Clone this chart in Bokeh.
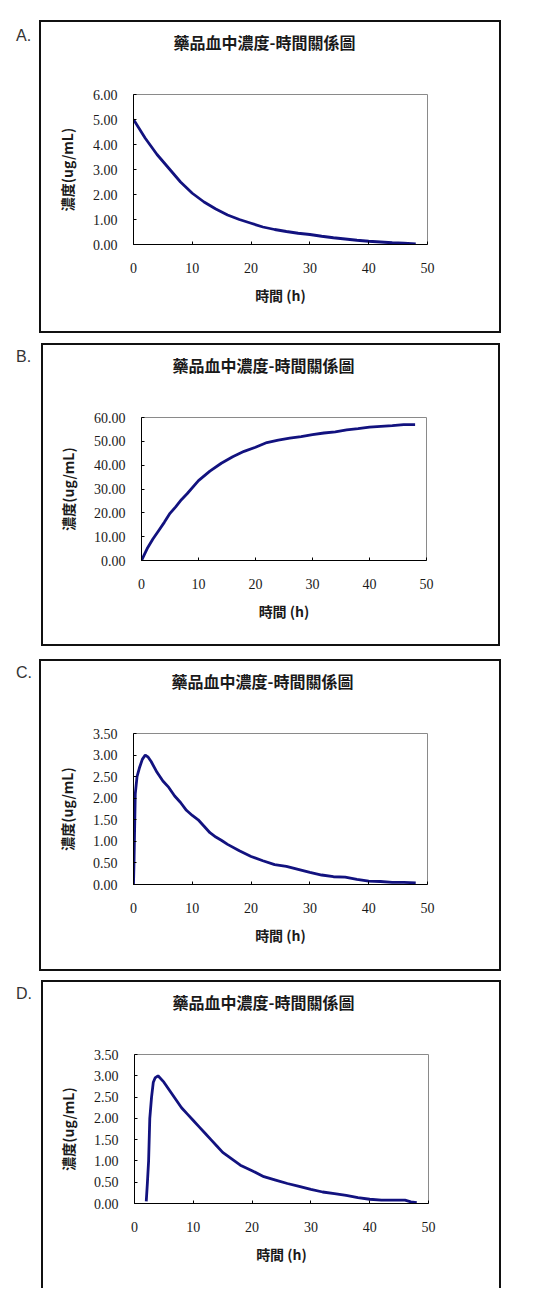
from bokeh.plotting import figure
from bokeh.layouts import column, row
from bokeh.models import Range1d, FixedTicker, NumeralTickFormatter, Div, Spacer, Title
from bokeh.embed import file_html
from bokeh.resources import INLINE

TITLE = "藥品血中濃度-時間關係圖"
XLABEL = "時間 (h)"
YLABEL = "濃度(ug/mL)"
X_TICKS = [0, 10, 20, 30, 40, 50]

# Panel A: IV bolus decay
a_time = [0, 2, 4, 6, 8, 10, 12, 14, 16, 18, 20, 22, 24, 26, 28, 30, 32, 34, 36, 38, 40, 42, 44, 46, 48]
a_conc = [5.0, 4.25, 3.6, 3.05, 2.5, 2.05, 1.7, 1.42, 1.18, 1.0, 0.85, 0.7, 0.6, 0.52, 0.45, 0.4,
          0.33, 0.27, 0.22, 0.17, 0.13, 0.1, 0.07, 0.05, 0.02]
a_yticks = [0, 1, 2, 3, 4, 5, 6]

# Panel B: infusion, rising to plateau
b_time = [0, 1, 2, 3, 4, 5, 6, 7, 8, 10, 12, 14, 16, 18, 20, 22, 24, 26, 28, 30, 32, 34, 36, 38, 40,
          42, 44, 46, 48]
b_conc = [0, 5, 9, 12.5, 16, 19.8, 22.5, 25.5, 28, 33.5, 37.5, 40.8, 43.5, 45.8, 47.5, 49.5, 50.5,
          51.3, 52, 52.8, 53.5, 54, 54.8, 55.3, 56, 56.3, 56.6, 57, 57]
b_yticks = [0, 10, 20, 30, 40, 50, 60]

# Panel C: oral absorption, fast
c_time = [0, 0.1, 0.3, 0.6, 1, 1.5, 2, 2.5, 3, 4, 5, 6, 7, 8, 9, 10, 11, 12, 13, 14, 15, 16, 18, 20,
          22, 24, 26, 28, 30, 32, 34, 36, 38, 40, 42, 44, 46, 48]
c_conc = [0, 0.6, 2.1, 2.5, 2.7, 2.9, 3.0, 2.95, 2.85, 2.6, 2.4, 2.25, 2.05, 1.9, 1.72, 1.6, 1.5, 1.35,
          1.2, 1.1, 1.02, 0.93, 0.78, 0.65, 0.55, 0.46, 0.42, 0.35, 0.28, 0.22, 0.18, 0.17, 0.12, 0.08,
          0.07, 0.05, 0.05, 0.04]
c_yticks = [0, 0.5, 1.0, 1.5, 2.0, 2.5, 3.0, 3.5]

# Panel D: oral absorption with lag time
d_time = [2.0, 2.2, 2.4, 2.6, 2.9, 3.2, 3.5, 4, 5, 6, 7, 8, 9, 10, 11, 12, 13, 14, 15, 16, 17, 18,
          20, 22, 24, 26, 28, 30, 32, 34, 36, 38, 40, 42, 44, 46, 47, 48]
d_conc = [0.05, 0.5, 1.0, 2.0, 2.5, 2.85, 2.95, 3.0, 2.85, 2.65, 2.45, 2.25, 2.1, 1.95, 1.8, 1.65,
          1.5, 1.35, 1.2, 1.1, 1.0, 0.9, 0.77, 0.63, 0.55, 0.47, 0.4, 0.33, 0.27, 0.23, 0.19, 0.14,
          0.1, 0.08, 0.08, 0.08, 0.04, 0.02]
d_yticks = [0, 0.5, 1.0, 1.5, 2.0, 2.5, 3.0, 3.5]

LINE_COLOR = "#12127f"

panels = [
    dict(letter="A.", t=a_time, c=a_conc, yt=a_yticks, gap=20, lw=29, w=458, h=309,
         plot=(92, 386, 69, 222), title_off=40, bottom=True, lpad=6),
    dict(letter="B.", t=b_time, c=b_conc, yt=b_yticks, gap=10, lw=31, w=455, h=299,
         plot=(98, 383, 68, 215), title_off=31, bottom=True, lpad=4),
    dict(letter="C.", t=c_time, c=c_conc, yt=c_yticks, gap=13, lw=29, w=458, h=308,
         plot=(92, 386, 70, 223), title_off=38, bottom=True, lpad=4),
    dict(letter="D.", t=d_time, c=d_conc, yt=d_yticks, gap=9, lw=31, w=456, h=306,
         plot=(91, 385, 69, 221), title_off=38, bottom=False, lpad=4),
]

items = []
for pn in panels:
    pl, pr, pt, pb = pn["plot"]
    W, H = pn["w"], pn["h"]
    p = figure(width=W, height=H, output_backend="svg", toolbar_location=None,
               x_range=Range1d(0, 50), y_range=Range1d(pn["yt"][0], pn["yt"][-1]),
               min_border_left=pl, min_border_right=W - pr,
               min_border_top=pt, min_border_bottom=H - pb)
    # spacer between chart title and plot frame
    p.add_layout(Title(text="\u00a0", text_font_size="1px", standoff=33), "above")
    p.title.text = TITLE
    p.title.align = "left"
    p.title.offset = pn["title_off"]
    p.title.text_font = "Noto Sans CJK TC"
    p.title.text_font_style = "bold"
    p.title.text_font_size = "16px"
    p.title.text_color = "#1a1a1a"
    p.title.standoff = 10

    p.xgrid.visible = False
    p.ygrid.visible = False
    p.outline_line_color = "#8a8a8a"
    p.outline_line_width = 1
    p.background_fill_color = "white"
    p.border_fill_color = None

    p.xaxis.ticker = FixedTicker(ticks=X_TICKS)
    p.yaxis.ticker = FixedTicker(ticks=pn["yt"])
    p.yaxis.formatter = NumeralTickFormatter(format="0.00")
    for ax in (p.xaxis[0], p.yaxis[0]):
        ax.major_tick_in = 3
        ax.major_tick_out = 0
        ax.minor_tick_line_color = None
        ax.axis_line_color = "black"
        ax.major_tick_line_color = "black"
        ax.major_label_text_font = "Liberation Serif"
        ax.major_label_text_font_size = "14px"
        ax.major_label_text_color = "#1a1a1a"
        ax.axis_label_text_font = "Noto Sans CJK TC"
        ax.axis_label_text_font_style = "bold"
        ax.axis_label_text_color = "#1a1a1a"
        ax.axis_label_text_font_size = "14px"
    p.xaxis.axis_label = XLABEL
    p.xaxis.major_label_standoff = 18
    p.xaxis.axis_label_standoff = 9
    p.yaxis.axis_label = YLABEL
    p.yaxis.major_label_standoff = 16
    p.yaxis.axis_label_standoff = 13

    p.line(pn["t"], pn["c"], line_color=LINE_COLOR, line_width=2.8)

    border = {"border": "2px solid #111111"}
    if not pn["bottom"]:
        border["border-bottom"] = "none"
    box = column(p, styles=border)
    letter = Div(text='<span style="position:relative;top:-6px">%s</span>' % pn["letter"],
                 width=pn["lw"], height=30,
                 styles={"font-family": "Liberation Sans", "font-size": "16px", "color": "#333333",
                         "padding-left": "11px", "padding-top": "%dpx" % pn["lpad"]})
    items.append(Spacer(height=pn["gap"], width=10))
    items.append(row(letter, box, spacing=0))

layout = column(*items, spacing=0)
open("out.html", "w").write(file_html(layout, INLINE))
